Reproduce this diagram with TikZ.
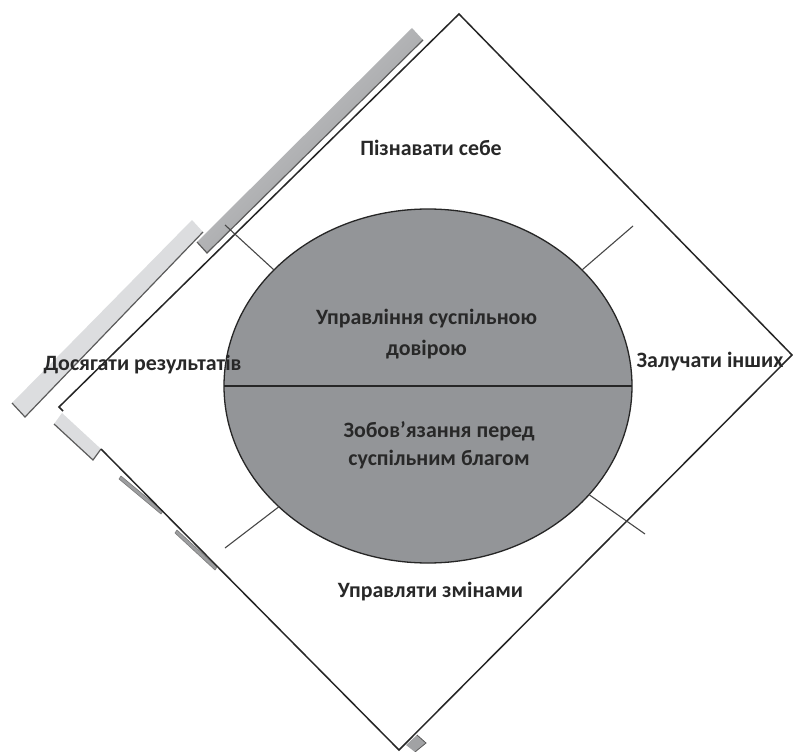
\documentclass[tikz,border=0pt]{standalone}
\usepackage{fontspec}
\setmainfont{Carlito}
\usetikzlibrary{shapes.geometric}
\definecolor{ellfill}{RGB}{147,149,152}
\definecolor{lightbar}{RGB}{220,221,223}
\definecolor{barlight}{RGB}{208,209,211}
\definecolor{bardark}{RGB}{145,146,148}
\definecolor{edgecol}{RGB}{38,38,38}
\definecolor{txtcol}{RGB}{40,40,40}
\definecolor{shadowcol}{RGB}{90,90,90}
\tikzset{
  edgeline/.style={draw=edgecol, line width=1.5pt, line join=miter},
  ellline/.style={draw=edgecol, line width=1.3pt},
  tickline/.style={draw=edgecol!85, line width=1.1pt},
  shadowline/.style={draw=shadowcol, line width=1.2pt},
  lbl/.style={text=txtcol, font=\fontsize{21.9}{26}\selectfont\bfseries, inner sep=0pt},
  thinbar/.style={fill=bardark!90, draw=shadowcol!80, line width=0.6pt}
}
\begin{document}
\begin{tikzpicture}[x=1pt,y=-1pt]
\useasboundingbox (0,0) rectangle (793,752);
\fill[white] (0,0) rectangle (793,752);

% dark gradient bar on the upper-left edge
\shade[top color=barlight, bottom color=bardark, shading angle=45]
  (412,28) -- (423,40) -- (207,253) -- (197,242) -- cycle;
\draw[shadowline] (423,40) -- (207,253) -- (197,242);

% light bar, further out
\fill[lightbar] (192,220) -- (203,232) -- (25,417) -- (12,403) -- cycle;
\draw[shadowline] (203,232) -- (25,417) -- (12,403);

% light block at the left corner
\fill[lightbar] (62,413) -- (101,449) -- (93,460) -- (54,424) -- cycle;
\draw[shadowline] (54,424) -- (93,460) -- (101,449);

% thin bars along the lower-left edge
\draw[thinbar] (121,476) -- (163,511) -- (161,514) -- (119,479) -- cycle;
\draw[thinbar] (177,530) -- (217,567) -- (215,570) -- (175,533) -- cycle;

% small block at the bottom
\fill[bardark!85] (406,745) -- (417,735) -- (426,743) -- (415,752) -- cycle;
\draw[shadowline, line width=0.8pt] (417,735) -- (426,743) -- (415,752);

% the rotated frame
\coordinate (pA) at (101,449);
\coordinate (pB) at (399,750);
\coordinate (pC) at (792,355);
\coordinate (pD) at (459,14);
\coordinate (pE) at (59,407);
\coordinate (pF) at (63,411);
\draw[edgeline] (pA) -- (pB) -- (pC) -- (pD) -- (pE) -- (pF);

% central ellipse
\node[ellipse, fill=ellfill, ellline, minimum width=408pt, minimum height=354pt,
      inner sep=0pt, outer sep=0pt] (ell) at (428,386) {};
\draw[ellline] (ell.west) -- (ell.east);

% ticks
\coordinate (t1) at (225,225);
\coordinate (t2) at (633,226);
\coordinate (t3) at (645,534);
\coordinate (t4) at (225,548);
\draw[tickline] (ell.143) -- (t1);
\draw[tickline] (ell.37) -- (t2);
\draw[tickline] (ell.-34) -- (t3);
\draw[tickline] (ell.219) -- (t4);

% labels
\node[lbl] (top) at (431,148) {Пізнавати себе};
\node[lbl] (left) at (142.5,365) {Досягати результатів};
\node[lbl] (right) at (710,362) {Залучати інших};
\node[lbl] (bottom) at (430.5,592) {Управляти змінами};
\node[lbl, align=center, font=\fontsize{21.9}{31}\selectfont\bfseries] (up) at (426.5,334)
  {Управління суспільною\\довірою};
\node[lbl, align=center, font=\fontsize{21.9}{28}\selectfont\bfseries] (low) at (439,445)
  {Зобов’язання перед\\суспільним благом};
\end{tikzpicture}
\end{document}
